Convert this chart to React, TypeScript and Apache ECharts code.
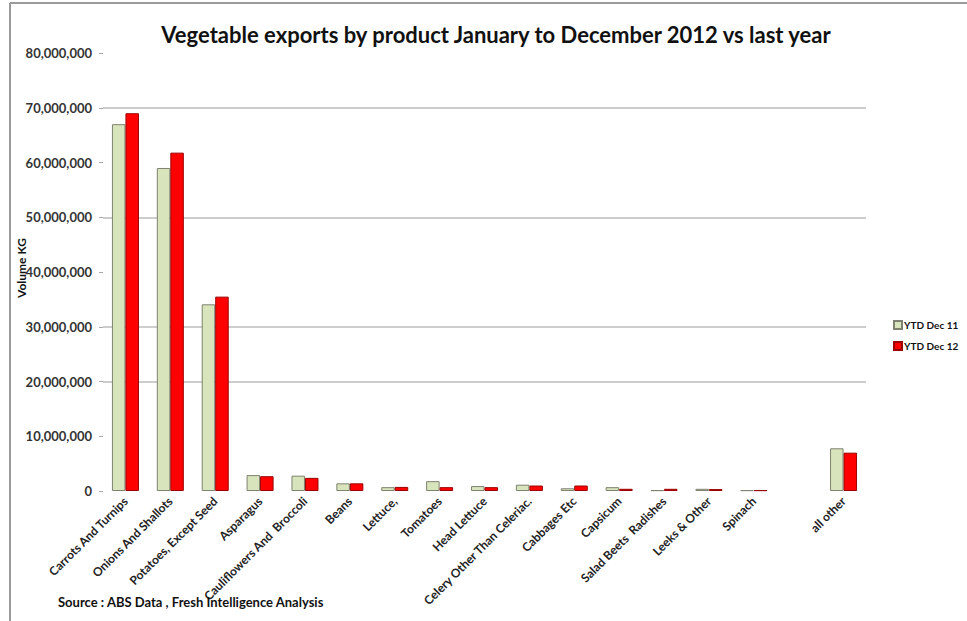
import React, { useEffect, useRef } from "react";
import * as echarts from "echarts";

const categories = [
  "Carrots And Turnips",
  "Onions And Shallots",
  "Potatoes, Except Seed",
  "Asparagus",
  "Cauliflowers And  Broccoli",
  "Beans",
  "Lettuce,",
  "Tomatoes",
  "Head Lettuce",
  "Celery Other Than Celeriac.",
  "Cabbages Etc",
  "Capsicum",
  "Salad Beets  Radishes",
  "Leeks & Other",
  "Spinach",
  "",
  "all other",
];

const ytdDec11 = [
  67000000, 59000000, 34100000, 2900000, 2800000, 1400000, 700000, 1800000,
  900000, 1150000, 500000, 700000, 150000, 400000, 150000, null, 7800000,
];
const ytdDec12 = [
  69000000, 61800000, 35500000, 2700000, 2400000, 1400000, 750000, 700000,
  700000, 1000000, 1000000, 400000, 400000, 350000, 150000, null, 7000000,
];

const gridValues = [70000000, 50000000, 30000000, 20000000];
const seriesNames = ["YTD Dec 11", "YTD Dec 12"];

const FONT = "Lato";

export default function App() {
  const ref = useRef<HTMLDivElement>(null);
  useEffect(() => {
    if (!ref.current) return;
    const chart = echarts.init(ref.current, undefined, { renderer: "svg" });
    chart.setOption({
      animation: false,
      backgroundColor: "#ffffff",
      title: {
        text: "Vegetable exports by product January to December 2012 vs last year",
        left: 491,
        top: 18,
        textAlign: "center",
        textStyle: { fontFamily: FONT, fontWeight: "bold", fontSize: 22, color: "#111" },
      },
      legend: {
        orient: "vertical",
        left: 888,
        top: 315,
        itemWidth: 8,
        itemHeight: 8,
        itemGap: 11,
        icon: "rect",
        textStyle: { fontFamily: FONT, fontWeight: "bold", fontSize: 10, color: "#111", padding: [0, 0, 0, -3] },
        data: seriesNames,
      },
      grid: {
        left: 103,
        right: 101,
        top: 53,
        bottom: 130,
        containLabel: false,
        outerBoundsMode: "none",
      },
      xAxis: {
        type: "category",
        data: categories,
        axisLine: { show: false },
        axisTick: { show: false },
        axisLabel: {
          interval: 0,
          rotate: 45,
          margin: 8,
          fontFamily: FONT,
          fontWeight: "bold",
          fontSize: 12,
          color: "#222",
        },
      },
      yAxis: {
        type: "value",
        min: 0,
        max: 80000000,
        interval: 10000000,
        axisLine: { show: false },
        axisTick: { show: true, length: 4, lineStyle: { color: "#aaa" } },
        splitLine: { show: false },
        axisLabel: {
          margin: 11,
          fontFamily: FONT,
          fontWeight: "bold",
          fontSize: 13,
          color: "#333",
          formatter: (v: number) => v.toLocaleString("en-US"),
        },
      },
      series: [
        {
          name: seriesNames[0],
          type: "bar",
          data: ytdDec11,
          barWidth: 13.5,
          barGap: "0%",
          itemStyle: { color: "#d8e4bc", borderColor: "#7f8270", borderWidth: 1 },
          markLine: {
            silent: true,
            symbol: "none",
            label: { show: false },
            lineStyle: { color: "#bdbdbd", width: 1.5, type: "solid" },
            z: 1,
            data: gridValues.map((v) => ({ yAxis: v })),
          },
          z: 3,
        },
        {
          name: seriesNames[1],
          type: "bar",
          data: ytdDec12,
          barWidth: 13.5,
          itemStyle: { color: "#ff0000", borderColor: "#9a0000", borderWidth: 1 },
          z: 3,
        },
      ],
      graphic: [
        {
          type: "line",
          shape: { x1: 10, y1: 3, x2: 967, y2: 3 },
          style: { stroke: "#9a9a9a", lineWidth: 2 },
        },
        {
          type: "line",
          shape: { x1: 10, y1: 3, x2: 10, y2: 621 },
          style: { stroke: "#9a9a9a", lineWidth: 2 },
        },
        {
          type: "text",
          x: 21,
          y: 268,
          rotation: Math.PI / 2,
          style: {
            text: "Volume KG",
            font: `bold 12px ${FONT}`,
            fill: "#111",
            textAlign: "center",
            textVerticalAlign: "middle",
          },
        },
        {
          type: "text",
          x: 58,
          y: 602,
          style: {
            text: "Source : ABS Data , Fresh Intelligence Analysis",
            font: `bold 13px ${FONT}`,
            fill: "#111",
            textVerticalAlign: "middle",
          },
          z: 10,
        },
      ],
    });
    return () => chart.dispose();
  }, []);
  return (
    <div
      ref={ref}
      style={{ position: "fixed", left: 0, top: 0, width: 967, height: 621 }}
    />
  );
}
